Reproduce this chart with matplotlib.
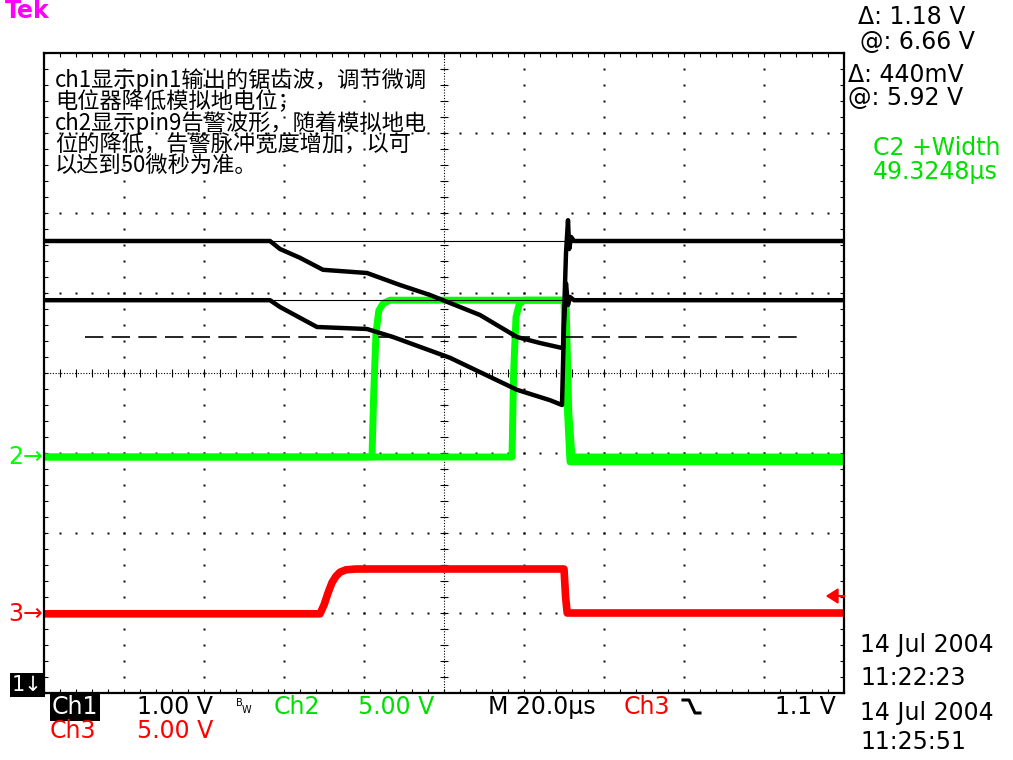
import numpy as np
import matplotlib.pyplot as plt
from matplotlib.lines import Line2D
from matplotlib.ticker import MultipleLocator

plt.rcParams['font.family'] = ['DejaVu Sans']

W, H = 1013, 760

# time in µs (20 µs/div), level in screen divisions (0 = centre line)
# ch1: two overlaid acquisitions of the sawtooth
ch1_a_t = [-100, -43.5, -41, -36, -30.25, -19.25, -11, -3.5, 1.5, 9, 18.25, 24, 29.75, 30.5, 31, 31.3, 31.8, 32.5, 100]
ch1_a_v = [1.65, 1.65, 1.55, 1.44, 1.29, 1.25, 1.10, 0.975, 0.875, 0.725, 0.45, 0.375, 0.31, 1.5, 1.91, 1.55, 1.7, 1.65, 1.65]
ch1_b_t = [-100, -43.5, -41, -31.75, -19.25, -12.75, 1.5, 18.25, 26.5, 29.5, 30, 30.5, 31, 31.5, 32.5, 100]
ch1_b_v = [0.91, 0.91, 0.825, 0.575, 0.55, 0.45, 0.19, -0.21, -0.34, -0.40, 0.6, 1.12, 0.85, 0.95, 0.91, 0.91]

# ch2: alarm pulse, two acquisitions
ch2_a_t = [-100, -18, -17.6, -17, -16.3, -15.2, -13.5, 30.5, 31.2, 32, 100]
ch2_a_v = [-1.05, -1.05, -0.3, 0.5, 0.78, 0.87, 0.91, 0.91, -0.5, -1.05, -1.05]
ch2_b_t = [-100, 17, 17.4, 18, 18.8, 20, 30, 30.8, 31.5, 100]
ch2_b_v = [-1.05, -1.05, 0.0, 0.7, 0.86, 0.91, 0.91, -0.4, -1.11, -1.11]

# ch3
ch3_t = [-100, -31, -30, -29, -28, -27, -26, -24.5, -22, 30, 30.4, 30.8, 100]
ch3_v = [-3.01, -3.01, -2.9, -2.75, -2.62, -2.54, -2.49, -2.46, -2.45, -2.45, -2.8, -3.0, -3.0]

cursor_levels = [1.65, 0.9125]
threshold_level = 0.45
threshold_span = [-89.75, 90.25]

note_lines = ['ch1显示pin1输出的锯齿波，调节微调',
              '电位器降低模拟地电位；',
              'ch2显示pin9告警波形，随着模拟地电',
              '位的降低，告警脉冲宽度增加，以可',
              '以达到50微秒为准。']

GREEN = '#00ff00'
GREEN_TXT = '#00e000'
RED = '#ff0000'
FS = 17

fig = plt.figure(figsize=(W / 100, H / 100), dpi=100)
fig.patch.set_facecolor('white')
ax = fig.add_axes([44 / W, 67 / H, 800 / W, 640 / H])
ax.set_xlim(-100, 100)
ax.set_ylim(-4, 4)

# graticule
minor_x = np.arange(-100, 100.1, 4)
minor_y = np.arange(-4, 4.01, 0.2)
for xv in range(-80, 81, 20):
    if xv != 0:
        ax.plot(np.full_like(minor_y, xv), minor_y, ls='none', marker='s', ms=1.4, mew=0, color='k', zorder=1)
for yv in range(-3, 4):
    if yv != 0:
        ax.plot(minor_x, np.full_like(minor_x, yv), ls='none', marker='s', ms=1.4, mew=0, color='k', zorder=1)
ax.axhline(0, ls=(0, (1, 1.5)), lw=0.8, color='k', zorder=1)
ax.axvline(0, ls=(0, (1, 1.5)), lw=0.8, color='k', zorder=1)
ax.plot(minor_x, np.zeros_like(minor_x), ls='none', marker='|', ms=6, mew=0.8, color='k', zorder=1)
ax.plot(np.zeros_like(minor_y), minor_y, ls='none', marker='_', ms=6, mew=0.8, color='k', zorder=1)

ax.xaxis.set_major_locator(MultipleLocator(20))
ax.xaxis.set_minor_locator(MultipleLocator(4))
ax.yaxis.set_major_locator(MultipleLocator(1))
ax.yaxis.set_minor_locator(MultipleLocator(0.2))
ax.tick_params(which='both', direction='in', top=True, right=True, length=3, width=0.8,
               labelbottom=False, labelleft=False)
for sp in ax.spines.values():
    sp.set_linewidth(1.6)

# traces
ax.plot(ch3_t, ch3_v, color=RED, lw=5.5, zorder=2)
ax.plot(ch2_a_t, ch2_a_v, color=GREEN, lw=5, zorder=2)
ax.plot(ch2_b_t, ch2_b_v, color=GREEN, lw=5, zorder=2)
ax.plot(ch1_a_t, ch1_a_v, color='k', lw=3.2, zorder=3)
ax.plot(ch1_b_t, ch1_b_v, color='k', lw=3.2, zorder=3)

# cursors and threshold
for lv in cursor_levels:
    ax.axhline(lv, color='k', lw=0.8, zorder=4)
ax.plot(threshold_span, [threshold_level] * 2, color='k', lw=1.2, dashes=(11, 5), zorder=4)


def ftext(px, py, s, **kw):
    kw.setdefault('va', 'center')
    return fig.text(px / W, 1 - py / H, s, **kw)


ftext(5, 18, 'Tek', color='#ff00ff', fontsize=17, fontweight='bold', va='baseline')

ftext(55, 68, '\n'.join(note_lines), fontsize=16, va='top', linespacing=0.9,
      family=['Noto Sans CJK SC', 'DejaVu Sans'])

# readouts on the right
ftext(858, 17, 'Δ: 1.18 V', fontsize=FS)
ftext(860, 42, '@: 6.66 V', fontsize=FS)
ftext(848, 75, 'Δ: 440mV', fontsize=FS)
ftext(848, 98, '@: 5.92 V', fontsize=FS)
ftext(873, 148, 'C2 +Width', fontsize=FS, color=GREEN_TXT)
ftext(873, 172, '49.3248µs', fontsize=FS, color=GREEN_TXT)
ftext(860, 645, '14 Jul 2004', fontsize=FS)
ftext(860, 678, '11:22:23', fontsize=FS)
ftext(860, 713, '14 Jul 2004', fontsize=FS)
ftext(860, 742, '11:25:51', fontsize=FS)

# channel markers
ftext(43, 457, '2→', fontsize=FS, color=GREEN, ha='right')
ftext(43, 614, '3→', fontsize=FS, color=RED, ha='right')
ftext(12, 685, '1↓', fontsize=15, color='white',
      bbox=dict(facecolor='black', edgecolor='none', pad=1.5))
fig.add_artist(Line2D([828 / W, 844 / W], [1 - 596 / H] * 2, color=RED, lw=1.5))
fig.add_artist(plt.Polygon([[827 / W, 1 - 596 / H], [838 / W, 1 - 589 / H], [838 / W, 1 - 603 / H]],
                           closed=True, color=RED, transform=fig.transFigure))

# bottom status line
ftext(52, 707, 'Ch1', fontsize=FS, color='white',
      bbox=dict(facecolor='black', edgecolor='none', pad=1.2))
ftext(137, 707, '1.00 V', fontsize=FS)
ftext(236, 703, 'B', fontsize=7)
ftext(242, 710, 'W', fontsize=7)
ftext(274, 707, 'Ch2', fontsize=FS, color=GREEN_TXT)
ftext(358, 707, '5.00 V', fontsize=FS, color=GREEN_TXT)
ftext(488, 707, 'M 20.0µs', fontsize=FS)
ftext(624, 707, 'Ch3', fontsize=FS, color=RED)
fig.add_artist(Line2D(np.array([683, 689, 695, 700]) / W, 1 - np.array([700, 700, 713, 713]) / H,
                      color='k', lw=2.2))
ftext(836, 707, '1.1 V', fontsize=FS, ha='right')
ftext(50, 731, 'Ch3', fontsize=FS, color=RED)
ftext(137, 731, '5.00 V', fontsize=FS, color=RED)

fig.savefig('out.png', dpi=100, facecolor='white')
